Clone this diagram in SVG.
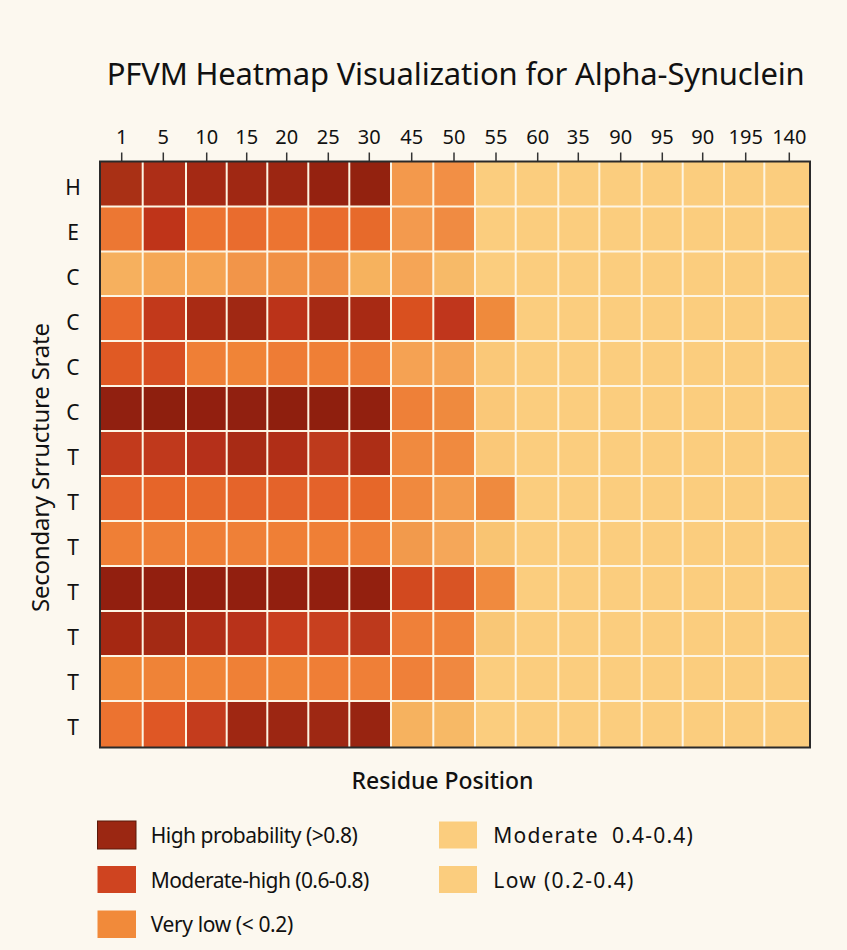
<svg xmlns="http://www.w3.org/2000/svg" width="847" height="950" viewBox="0 0 847 950">
<style>
.t{font-family:"Noto Sans","Open Sans","Liberation Sans",sans-serif;fill:#111}
.tick-l{font-size:20px;text-anchor:middle}
.row-l{font-size:21px;text-anchor:middle}
.leg{font-size:21px}
.grid line{stroke:#fdf5e3;stroke-width:2}
.ticks line{stroke:#333;stroke-width:1.5}
</style>
<rect width="847" height="950" fill="#fcf8ef"/>
<g id="title"><text class="t" x="106.7" y="84.5" font-size="31" textLength="698">PFVM Heatmap Visualization for Alpha-Synuclein</text></g>
<g id="x-axis-ticks" class="ticks">
<line x1="121.7" y1="152.5" x2="121.7" y2="161.5"/><line x1="163.3" y1="152.5" x2="163.3" y2="161.5"/><line x1="206.7" y1="152.5" x2="206.7" y2="161.5"/><line x1="246.7" y1="152.5" x2="246.7" y2="161.5"/><line x1="286.7" y1="152.5" x2="286.7" y2="161.5"/><line x1="328.3" y1="152.5" x2="328.3" y2="161.5"/><line x1="369.3" y1="152.5" x2="369.3" y2="161.5"/><line x1="411.7" y1="152.5" x2="411.7" y2="161.5"/><line x1="454" y1="152.5" x2="454" y2="161.5"/><line x1="496" y1="152.5" x2="496" y2="161.5"/><line x1="537.7" y1="152.5" x2="537.7" y2="161.5"/><line x1="578.3" y1="152.5" x2="578.3" y2="161.5"/><line x1="620.7" y1="152.5" x2="620.7" y2="161.5"/><line x1="662.3" y1="152.5" x2="662.3" y2="161.5"/><line x1="702.7" y1="152.5" x2="702.7" y2="161.5"/><line x1="745.7" y1="152.5" x2="745.7" y2="161.5"/><line x1="789.3" y1="152.5" x2="789.3" y2="161.5"/>
</g>
<g id="x-axis-labels" class="t tick-l">
<text x="121.7" y="144">1</text><text x="163.3" y="144">5</text><text x="206.7" y="144">10</text><text x="246.7" y="144">15</text><text x="286.7" y="144">20</text><text x="328.3" y="144">25</text><text x="369.3" y="144">30</text><text x="411.7" y="144">45</text><text x="454" y="144">50</text><text x="496" y="144">55</text><text x="537.7" y="144">60</text><text x="578.3" y="144">35</text><text x="620.7" y="144">90</text><text x="662.3" y="144">95</text><text x="702.7" y="144">90</text><text x="745.7" y="144">195</text><text x="789.3" y="144">140</text>
</g>
<g id="y-axis-labels" class="t row-l">
<text x="73" y="195">H</text><text x="73" y="240">E</text><text x="73" y="285">C</text><text x="73" y="329.5">C</text><text x="73" y="374.5">C</text><text x="73" y="419.5">C</text><text x="73" y="464.5">T</text><text x="73" y="509.5">T</text><text x="73" y="554.5">T</text><text x="73" y="599.5">T</text><text x="73" y="644.5">T</text><text x="73" y="689.5">T</text><text x="73" y="735">T</text>
</g>
<g id="y-axis-title"><text class="t" transform="translate(49,467.5) rotate(-90)" text-anchor="middle" font-size="24" textLength="289">Secondary Srructure Srate</text></g>
<g id="heatmap">
<rect x="100" y="161.5" width="710" height="586" fill="#fbcd7e"/>
<g id="row-0" transform="translate(0,161.5)">
<rect x="100" width="42.7" height="45" fill="#a93015"/><rect x="142.7" width="43.3" height="45" fill="#ad2e17"/><rect x="186" width="40.7" height="45" fill="#a42914"/><rect x="226.7" width="40.6" height="45" fill="#a02813"/><rect x="267.3" width="41" height="45" fill="#9c2612"/><rect x="308.3" width="41" height="45" fill="#952210"/><rect x="349.3" width="41.7" height="45" fill="#93220f"/><rect x="391" width="42.3" height="45" fill="#f3994c"/><rect x="433.3" width="41.7" height="45" fill="#f28f45"/>
</g>
<g id="row-1" transform="translate(0,206.5)">
<rect x="100" width="42.7" height="45" fill="#ec7733"/><rect x="142.7" width="43.3" height="45" fill="#bf3419"/><rect x="186" width="40.7" height="45" fill="#ec7330"/><rect x="226.7" width="40.6" height="45" fill="#e96c2e"/><rect x="267.3" width="41" height="45" fill="#ec7431"/><rect x="308.3" width="41" height="45" fill="#e96c2d"/><rect x="349.3" width="41.7" height="45" fill="#e76a2b"/><rect x="391" width="42.3" height="45" fill="#f39a4e"/><rect x="433.3" width="41.7" height="45" fill="#f08b42"/>
</g>
<g id="row-2" transform="translate(0,251.5)">
<rect x="100" width="42.7" height="44.5" fill="#f6b05e"/><rect x="142.7" width="43.3" height="44.5" fill="#f5a856"/><rect x="186" width="40.7" height="44.5" fill="#f5a453"/><rect x="226.7" width="40.6" height="44.5" fill="#f29549"/><rect x="267.3" width="41" height="44.5" fill="#f19145"/><rect x="308.3" width="41" height="44.5" fill="#f08e44"/><rect x="349.3" width="41.7" height="44.5" fill="#f6b25e"/><rect x="391" width="42.3" height="44.5" fill="#f5a556"/><rect x="433.3" width="41.7" height="44.5" fill="#f7ba68"/>
</g>
<g id="row-3" transform="translate(0,296)">
<rect x="100" width="42.7" height="45" fill="#e8682b"/><rect x="142.7" width="43.3" height="45" fill="#c2391b"/><rect x="186" width="40.7" height="45" fill="#a92b14"/><rect x="226.7" width="40.6" height="45" fill="#a02813"/><rect x="267.3" width="41" height="45" fill="#bb3319"/><rect x="308.3" width="41" height="45" fill="#a52914"/><rect x="349.3" width="41.7" height="45" fill="#a82a14"/><rect x="391" width="42.3" height="45" fill="#d9501f"/><rect x="433.3" width="41.7" height="45" fill="#c0361c"/><rect x="475" width="40.7" height="45" fill="#ef8a3c"/>
</g>
<g id="row-4" transform="translate(0,341)">
<rect x="100" width="42.7" height="45" fill="#e05a24"/><rect x="142.7" width="43.3" height="45" fill="#d84f22"/><rect x="186" width="40.7" height="45" fill="#ef7f36"/><rect x="226.7" width="40.6" height="45" fill="#f08437"/><rect x="267.3" width="41" height="45" fill="#ee7c35"/><rect x="308.3" width="41" height="45" fill="#ef7f36"/><rect x="349.3" width="41.7" height="45" fill="#ef8038"/><rect x="391" width="42.3" height="45" fill="#f5a253"/><rect x="433.3" width="41.7" height="45" fill="#f5a556"/><rect x="475" width="40.7" height="45" fill="#fac878"/>
</g>
<g id="row-5" transform="translate(0,386)">
<rect x="100" width="42.7" height="45" fill="#912010"/><rect x="142.7" width="43.3" height="45" fill="#8e1f0e"/><rect x="186" width="40.7" height="45" fill="#921f0f"/><rect x="226.7" width="40.6" height="45" fill="#912010"/><rect x="267.3" width="41" height="45" fill="#8f1f0e"/><rect x="308.3" width="41" height="45" fill="#8f1f0e"/><rect x="349.3" width="41.7" height="45" fill="#92200f"/><rect x="391" width="42.3" height="45" fill="#ee8038"/><rect x="433.3" width="41.7" height="45" fill="#ef8a3e"/><rect x="475" width="40.7" height="45" fill="#fac878"/>
</g>
<g id="row-6" transform="translate(0,431)">
<rect x="100" width="42.7" height="45" fill="#c23a1c"/><rect x="142.7" width="43.3" height="45" fill="#c0391c"/><rect x="186" width="40.7" height="45" fill="#b5301a"/><rect x="226.7" width="40.6" height="45" fill="#a82b15"/><rect x="267.3" width="41" height="45" fill="#b02e17"/><rect x="308.3" width="41" height="45" fill="#be3a1c"/><rect x="349.3" width="41.7" height="45" fill="#ad2e16"/><rect x="391" width="42.3" height="45" fill="#f08a3f"/><rect x="433.3" width="41.7" height="45" fill="#f08a3f"/><rect x="475" width="40.7" height="45" fill="#fac878"/>
</g>
<g id="row-7" transform="translate(0,476)">
<rect x="100" width="42.7" height="45" fill="#e4622a"/><rect x="142.7" width="43.3" height="45" fill="#e66529"/><rect x="186" width="40.7" height="45" fill="#e7692b"/><rect x="226.7" width="40.6" height="45" fill="#e5642a"/><rect x="267.3" width="41" height="45" fill="#e4632a"/><rect x="308.3" width="41" height="45" fill="#e4622a"/><rect x="349.3" width="41.7" height="45" fill="#e66729"/><rect x="391" width="42.3" height="45" fill="#f0893e"/><rect x="433.3" width="41.7" height="45" fill="#f39c4e"/><rect x="475" width="40.7" height="45" fill="#ef8a3e"/>
</g>
<g id="row-8" transform="translate(0,521)">
<rect x="100" width="42.7" height="45" fill="#ef7f36"/><rect x="142.7" width="43.3" height="45" fill="#ef8037"/><rect x="186" width="40.7" height="45" fill="#ef7f36"/><rect x="226.7" width="40.6" height="45" fill="#ef8037"/><rect x="267.3" width="41" height="45" fill="#ef7f36"/><rect x="308.3" width="41" height="45" fill="#ef7f36"/><rect x="349.3" width="41.7" height="45" fill="#ef8037"/><rect x="391" width="42.3" height="45" fill="#f29a4c"/><rect x="433.3" width="41.7" height="45" fill="#f5a759"/><rect x="475" width="40.7" height="45" fill="#f9c472"/>
</g>
<g id="row-9" transform="translate(0,566)">
<rect x="100" width="42.7" height="45" fill="#921f0f"/><rect x="142.7" width="43.3" height="45" fill="#921f0f"/><rect x="186" width="40.7" height="45" fill="#931f0f"/><rect x="226.7" width="40.6" height="45" fill="#921f0f"/><rect x="267.3" width="41" height="45" fill="#921f0f"/><rect x="308.3" width="41" height="45" fill="#921f0f"/><rect x="349.3" width="41.7" height="45" fill="#93200f"/><rect x="391" width="42.3" height="45" fill="#d2491f"/><rect x="433.3" width="41.7" height="45" fill="#d95424"/><rect x="475" width="40.7" height="45" fill="#f08a3e"/>
</g>
<g id="row-10" transform="translate(0,611)">
<rect x="100" width="42.7" height="45" fill="#a52812"/><rect x="142.7" width="43.3" height="45" fill="#a42a14"/><rect x="186" width="40.7" height="45" fill="#b02e17"/><rect x="226.7" width="40.6" height="45" fill="#b8321a"/><rect x="267.3" width="41" height="45" fill="#c93e1e"/><rect x="308.3" width="41" height="45" fill="#c8401f"/><rect x="349.3" width="41.7" height="45" fill="#bd391c"/><rect x="391" width="42.3" height="45" fill="#ef8039"/><rect x="433.3" width="41.7" height="45" fill="#ef823a"/><rect x="475" width="40.7" height="45" fill="#f9c776"/>
</g>
<g id="row-11" transform="translate(0,656)">
<rect x="100" width="42.7" height="45" fill="#f08637"/><rect x="142.7" width="43.3" height="45" fill="#ef8337"/><rect x="186" width="40.7" height="45" fill="#f08437"/><rect x="226.7" width="40.6" height="45" fill="#ef8036"/><rect x="267.3" width="41" height="45" fill="#f08437"/><rect x="308.3" width="41" height="45" fill="#ef7e36"/><rect x="349.3" width="41.7" height="45" fill="#ef7f37"/><rect x="391" width="42.3" height="45" fill="#ef8039"/><rect x="433.3" width="41.7" height="45" fill="#f08840"/>
</g>
<g id="row-12" transform="translate(0,701)">
<rect x="100" width="42.7" height="46.5" fill="#ec7330"/><rect x="142.7" width="43.3" height="46.5" fill="#df5725"/><rect x="186" width="40.7" height="46.5" fill="#c43c1d"/><rect x="226.7" width="40.6" height="46.5" fill="#9f2712"/><rect x="267.3" width="41" height="46.5" fill="#9c2612"/><rect x="308.3" width="41" height="46.5" fill="#9e2813"/><rect x="349.3" width="41.7" height="46.5" fill="#982411"/><rect x="391" width="42.3" height="46.5" fill="#f6b25f"/><rect x="433.3" width="41.7" height="46.5" fill="#f7b966"/>
</g>
<g class="grid">
<line x1="142.7" y1="161.5" x2="142.7" y2="747.5"/><line x1="186" y1="161.5" x2="186" y2="747.5"/><line x1="226.7" y1="161.5" x2="226.7" y2="747.5"/><line x1="267.3" y1="161.5" x2="267.3" y2="747.5"/><line x1="308.3" y1="161.5" x2="308.3" y2="747.5"/><line x1="349.3" y1="161.5" x2="349.3" y2="747.5"/><line x1="391" y1="161.5" x2="391" y2="747.5"/><line x1="433.3" y1="161.5" x2="433.3" y2="747.5"/><line x1="475" y1="161.5" x2="475" y2="747.5"/><line x1="515.7" y1="161.5" x2="515.7" y2="747.5"/><line x1="558.3" y1="161.5" x2="558.3" y2="747.5"/><line x1="599.3" y1="161.5" x2="599.3" y2="747.5"/><line x1="641.7" y1="161.5" x2="641.7" y2="747.5"/><line x1="682.7" y1="161.5" x2="682.7" y2="747.5"/><line x1="724" y1="161.5" x2="724" y2="747.5"/><line x1="764.3" y1="161.5" x2="764.3" y2="747.5"/>
<line x1="100" y1="206.5" x2="810" y2="206.5"/><line x1="100" y1="251.5" x2="810" y2="251.5"/><line x1="100" y1="296" x2="810" y2="296"/><line x1="100" y1="341" x2="810" y2="341"/><line x1="100" y1="386" x2="810" y2="386"/><line x1="100" y1="431" x2="810" y2="431"/><line x1="100" y1="476" x2="810" y2="476"/><line x1="100" y1="521" x2="810" y2="521"/><line x1="100" y1="566" x2="810" y2="566"/><line x1="100" y1="611" x2="810" y2="611"/><line x1="100" y1="656" x2="810" y2="656"/><line x1="100" y1="701" x2="810" y2="701"/>
</g>
<rect x="100" y="161.5" width="710" height="586" fill="none" stroke="#2a2a2a" stroke-width="2"/>
</g>
<g id="x-axis-title"><text class="t" x="442.5" y="789.3" text-anchor="middle" font-size="23" font-weight="500">Residue Position</text></g>
<g id="legend">
<g id="legend-high"><rect x="97.5" y="821" width="38.5" height="28" fill="#9b2712" stroke="#5a1a0a" stroke-width="1"/><text class="t leg" x="150.7" y="843.3" textLength="207">High probability (&gt;0.8)</text></g>
<g id="legend-modhigh"><rect x="97.5" y="866" width="38.5" height="27" fill="#cf4420"/><text class="t leg" x="150.7" y="888.3" textLength="218.6">Moderate-high (0.6-0.8)</text></g>
<g id="legend-verylow"><rect x="97.5" y="910.5" width="38.5" height="27.5" fill="#f18a3a"/><text class="t leg" x="150.7" y="931.7" textLength="142.6">Very low (&lt; 0.2)</text></g>
<g id="legend-moderate"><rect x="439" y="821.5" width="38" height="27" fill="#fbcd7e"/><text class="t leg" x="493.3" y="843.3" textLength="199.4" xml:space="preserve">Moderate  0.4-0.4)</text></g>
<g id="legend-low"><rect x="439" y="866" width="38" height="27" fill="#fbcd7e"/><text class="t leg" x="493.3" y="888.3" textLength="140">Low (0.2-0.4)</text></g>
</g>
</svg>
